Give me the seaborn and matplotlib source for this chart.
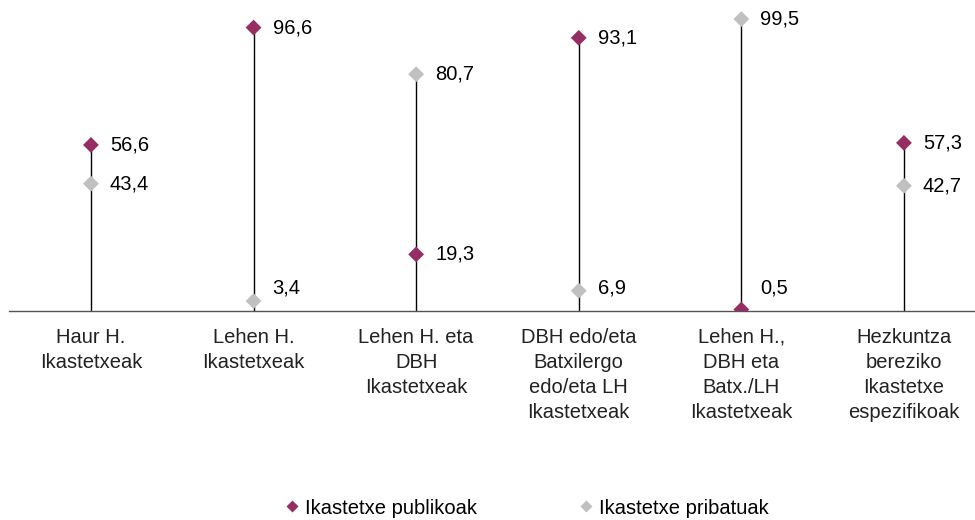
import matplotlib
matplotlib.use("Agg")
import matplotlib.pyplot as plt
import seaborn as sns
import pandas as pd
from matplotlib.lines import Line2D

categories = [
    "Haur H.\nIkastetxeak",
    "Lehen H.\nIkastetxeak",
    "Lehen H. eta\nDBH\nIkastetxeak",
    "DBH edo/eta\nBatxilergo\nedo/eta LH\nIkastetxeak",
    "Lehen H.,\nDBH eta\nBatx./LH\nIkastetxeak",
    "Hezkuntza\nbereziko\nIkastetxe\nespezifikoak",
]
publikoak = [56.6, 96.6, 19.3, 93.1, 0.5, 57.3]
pribatuak = [43.4, 3.4, 80.7, 6.9, 99.5, 42.7]
series_names = ["Ikastetxe publikoak", "Ikastetxe pribatuak"]
colors = {"Ikastetxe publikoak": "#962e63", "Ikastetxe pribatuak": "#c0c0c0"}

font = "Liberation Sans"
plt.rcParams["font.family"] = [font, "DejaVu Sans"]

rows = []
for i, c in enumerate(categories):
    rows.append({"x": i, "value": publikoak[i], "serie": series_names[0]})
    rows.append({"x": i, "value": pribatuak[i], "serie": series_names[1]})
df = pd.DataFrame(rows)

fig = plt.figure(figsize=(9.75, 5.2), dpi=100)
ax = fig.add_axes([9 / 975, (520 - 311) / 520, 1 - 9 / 975, 311 / 520])

# stems from zero to the larger of the two values
tops = [max(a, b) for a, b in zip(publikoak, pribatuak)]
ax.vlines(range(len(categories)), 0, tops, color="black", linewidth=1.0, zorder=1)

sns.scatterplot(data=df, x="x", y="value", hue="serie", palette=colors,
                marker="D", s=65, edgecolor="none", legend=False, ax=ax, zorder=3)

# value labels; the ones sitting on the baseline are lifted clear of it
for _, r in df.iterrows():
    ax.annotate(f"{r['value']:.1f}".replace(".", ","), (r["x"], max(r["value"], 7.8)),
                xytext=(19, 0), textcoords="offset pixels", ha="left", va="center",
                fontsize=14.5, color="black")

ax.set_xlim(-0.504, 5.437)
ax.set_ylim(0, 106)
ax.set_xticks(range(len(categories)))
ax.set_xticklabels(categories, fontsize=14.5, linespacing=1.4, color="#222222")
ax.tick_params(axis="x", length=0, pad=12)
ax.set_yticks([])
ax.set_xlabel("")
ax.set_ylabel("")
for s in ["top", "right", "left"]:
    ax.spines[s].set_visible(False)
ax.spines["bottom"].set_color("#555555")
ax.spines["bottom"].set_linewidth(1.0)
ax.patch.set_visible(False)

handles = [Line2D([], [], marker="D", linestyle="none", markersize=6,
                  markerfacecolor=colors[n], markeredgecolor="none") for n in series_names]
fig.legend(handles, series_names, loc="center", bbox_to_anchor=(526 / 975, 1 - 508 / 520),
           ncol=2, frameon=False, fontsize=14.5, handletextpad=0.25, columnspacing=5.0,
           handlelength=0.8)

fig.savefig("out.png", dpi=100)
